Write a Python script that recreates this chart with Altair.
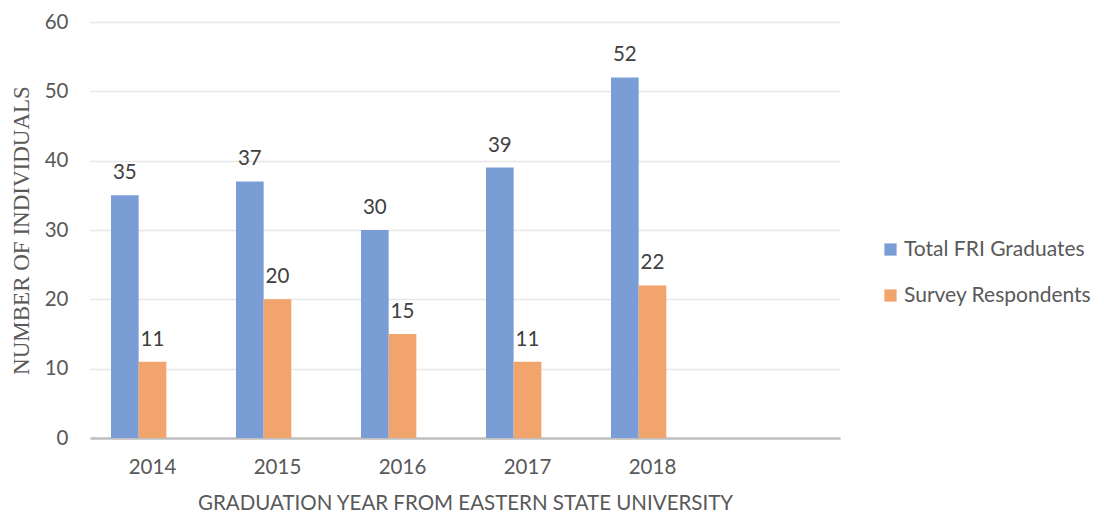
import altair as alt
import pandas as pd

years = ["2014", "2015", "2016", "2017", "2018"]
total_grads = [35, 37, 30, 39, 52]
respondents = [11, 20, 15, 11, 22]
series_names = ["Total FRI Graduates", "Survey Respondents"]
x_domain = years + ["2019"]          # empty trailing category, as in the original
offset_domain = series_names + ["(blank)"]  # empty third series slot

rows = []
for y, a, b in zip(years, total_grads, respondents):
    rows.append({"year": y, "series": series_names[0], "value": a})
    rows.append({"year": y, "series": series_names[1], "value": b})
df = pd.DataFrame(rows)

SANS = "Lato"
GREY = "#595959"

x_scale = alt.Scale(domain=x_domain, paddingInner=0.336, paddingOuter=0.168)
x_axis = alt.Axis(title="GRADUATION YEAR FROM EASTERN STATE UNIVERSITY",
                  labelAngle=0, labelFont=SANS, labelFontSize=20.5, labelColor=GREY,
                  labelPadding=19, ticks=False, domainColor="#bfbfbf", domainWidth=2.5,
                  grid=False,
                  labelExpr="datum.value == '2019' ? '' : datum.label",
                  titleFont=SANS, titleFontSize=20.5, titleColor=GREY, titleFontWeight="normal",
                  titlePadding=16)
y_scale = alt.Scale(domain=[0, 60])
y_axis = alt.Axis(values=[0, 10, 20, 30, 40, 50, 60], title="NUMBER OF INDIVIDUALS",
                  domain=False, ticks=False, grid=True, gridColor="#e8e8e8", gridWidth=1.5,
                  labelFont=SANS, labelFontSize=20.5, labelColor=GREY, labelPadding=22,
                  titleFont="Liberation Serif", titleFontSize=23, titleColor=GREY,
                  titleFontWeight="normal", titlePadding=11)
xo_enc = alt.XOffset("series:N", scale=alt.Scale(domain=offset_domain, paddingInner=0, paddingOuter=0),
                     sort=offset_domain)

base = alt.Chart(df)

bars = base.mark_bar().encode(
    x=alt.X("year:N", scale=x_scale, axis=x_axis),
    xOffset=xo_enc,
    y=alt.Y("value:Q", scale=y_scale, axis=y_axis),
    color=alt.Color("series:N", scale=alt.Scale(domain=series_names, range=["#7b9dd5", "#f2a46d"]),
                    legend=alt.Legend(title=None, orient="none", legendX=790, legendY=217,
                                      symbolType="square", symbolSize=150, symbolStrokeWidth=0,
                                      labelFont=SANS, labelFontSize=21, labelColor=GREY,
                                      labelLimit=0, rowPadding=24, labelOffset=3)),
)

labels = base.mark_text(baseline="bottom", dy=-12, font=SANS, fontSize=20.5, color="#404040").encode(
    x=alt.X("year:N", scale=x_scale, axis=x_axis),
    xOffset=xo_enc,
    y=alt.Y("value:Q", scale=y_scale, axis=y_axis),
    text=alt.Text("value:Q"),
)

chart = (bars + labels).properties(
    width=750, height=416,
    autosize=alt.AutoSizeParams(type="none"),
    padding={"left": 82, "top": 14, "right": 256, "bottom": 75},
).configure_view(stroke=None)

chart.save("out.html", embed_options={"renderer": "svg", "actions": False})
